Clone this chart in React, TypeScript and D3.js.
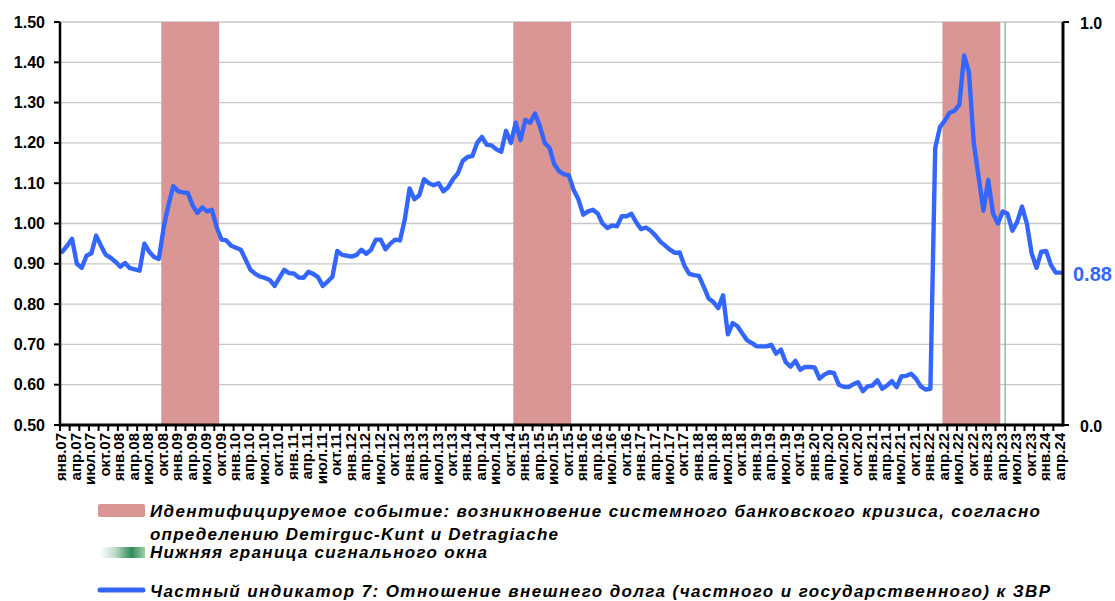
import React from 'react';
import * as d3 from 'd3';

// ---------- DATA ----------
const START_YEAR = 2007;
const QUARTER_NAMES = ['янв.', 'апр.', 'июл.', 'окт.'];

const v2007 = [0.93, 0.945, 0.962, 0.90, 0.89, 0.92, 0.926, 0.97, 0.945, 0.922, 0.915, 0.905];
const v2008 = [0.893, 0.902, 0.889, 0.886, 0.883, 0.95, 0.93, 0.917, 0.912, 0.99, 1.046, 1.093];
const v2009 = [1.08, 1.077, 1.076, 1.045, 1.026, 1.04, 1.03, 1.034, 0.99, 0.96, 0.958, 0.945];
const v2010 = [0.94, 0.935, 0.91, 0.885, 0.875, 0.868, 0.865, 0.86, 0.845, 0.865, 0.885, 0.877];
const v2011 = [0.876, 0.866, 0.865, 0.88, 0.875, 0.867, 0.845, 0.856, 0.868, 0.932, 0.922, 0.92];
const v2012 = [0.918, 0.922, 0.935, 0.925, 0.935, 0.96, 0.96, 0.936, 0.95, 0.96, 0.958, 1.01];
const v2013 = [1.087, 1.06, 1.07, 1.11, 1.10, 1.095, 1.10, 1.08, 1.09, 1.11, 1.124, 1.155];
const v2014 = [1.165, 1.167, 1.20, 1.215, 1.195, 1.194, 1.184, 1.178, 1.23, 1.20, 1.25, 1.207];
const v2015 = [1.257, 1.25, 1.273, 1.242, 1.20, 1.188, 1.147, 1.13, 1.122, 1.12, 1.084, 1.06];
const v2016 = [1.022, 1.03, 1.034, 1.025, 1.0, 0.989, 0.995, 0.993, 1.018, 1.018, 1.024, 1.003];
const v2017 = [0.986, 0.99, 0.982, 0.97, 0.955, 0.945, 0.935, 0.927, 0.928, 0.895, 0.875, 0.872];
const v2018 = [0.87, 0.843, 0.814, 0.805, 0.79, 0.822, 0.725, 0.753, 0.745, 0.727, 0.71, 0.703];
const v2019 = [0.695, 0.695, 0.695, 0.699, 0.677, 0.687, 0.656, 0.645, 0.659, 0.637, 0.644, 0.644];
const v2020 = [0.643, 0.615, 0.625, 0.631, 0.629, 0.60, 0.595, 0.594, 0.601, 0.606, 0.584, 0.596];
const v2021 = [0.598, 0.611, 0.59, 0.598, 0.609, 0.594, 0.621, 0.622, 0.627, 0.615, 0.596, 0.588];
const v2022 = [0.59, 1.187, 1.24, 1.255, 1.275, 1.28, 1.295, 1.417, 1.375, 1.20, 1.115, 1.032];
const v2023 = [1.108, 1.024, 1.0, 1.03, 1.024, 0.982, 1.004, 1.042, 1.0, 0.926, 0.89, 0.93];
const v2024 = [0.932, 0.897, 0.878, 0.878];

const values: number[] = [
  ...v2007, ...v2008, ...v2009, ...v2010, ...v2011, ...v2012, ...v2013, ...v2014, ...v2015,
  ...v2016, ...v2017, ...v2018, ...v2019, ...v2020, ...v2021, ...v2022, ...v2023, ...v2024,
];

// crisis periods (first month, last month)
const crisisPeriods: [string, string][] = [
  ['2008-10', '2009-09'],
  ['2014-11', '2015-10'],
  ['2022-04', '2023-03'],
];
const signalWindowLower = '2023-05';

const leftTicks = [0.5, 0.6, 0.7, 0.8, 0.9, 1.0, 1.1, 1.2, 1.3, 1.4, 1.5];
const rightTicks = [0, 1];

const legendCrisis1 = 'Идентифицируемое событие: возникновение системного банковского кризиса, согласно';
const legendCrisis2 = 'определению Demirguc-Kunt и Detragiache';
const legendSignal = 'Нижняя граница сигнального окна';
const legendLine = 'Частный индикатор 7: Отношение внешнего долга (частного и государственного) к ЗВР';

// ---------- HELPERS ----------
const monthIndex = (s: string) => {
  const [yy, mm] = s.split('-').map(Number);
  return (yy - START_YEAR) * 12 + (mm - 1);
};

const FONT = "'Liberation Sans', Arial, Helvetica, sans-serif";
const PINK = '#D99694';
const BLUE = '#3366FF';

export default function App() {
  const W = 1115, H = 601;
  const left = 60, right = 1063, top = 22, bottom = 425;
  const N = values.length;

  const x = d3.scaleBand<number>().domain(d3.range(N)).range([left, right]).paddingInner(0).paddingOuter(0);
  const bw = x.bandwidth();
  const edge = (i: number) => left + i * bw;
  const cx = (i: number) => (x(i) as number) + bw / 2;
  const y = d3.scaleLinear().domain([0.5, 1.5]).range([bottom, top]);
  const yR = d3.scaleLinear().domain([0, 1]).range([bottom, top]);

  const linePath = d3.line<number>().x((_, i) => cx(i)).y((d) => y(d))(values) || '';

  const xTickIdx = d3.range(0, N, 2);
  const labelIdx = d3.range(0, N, 3);
  const labelText = (i: number) => {
    const yr = START_YEAR + Math.floor(i / 12);
    const q = Math.floor((i % 12) / 3);
    return QUARTER_NAMES[q] + String(yr).slice(2);
  };

  const fmtL = d3.format('.2f');
  const fmtR = d3.format('.1f');
  const last = values[N - 1];
  const sigX = edge(monthIndex(signalWindowLower));

  return (
    <svg width={W} height={H} style={{ position: 'fixed', left: 0, top: 0, background: '#fff' }} fontFamily={FONT}>
      <defs>
        <linearGradient id="greenSw" x1="0" x2="1" y1="0" y2="0">
          <stop offset="0" stopColor="#ffffff" />
          <stop offset="0.35" stopColor="#b9d9c4" />
          <stop offset="0.7" stopColor="#2e8b57" />
          <stop offset="1" stopColor="#9ccfae" />
        </linearGradient>
      </defs>
      <rect x={0} y={0} width={W} height={H} fill="#fff" />

      {/* gridlines */}
      {leftTicks.map((t) => (
        <line key={'g' + t} x1={left} x2={right} y1={y(t)} y2={y(t)} stroke="#C8C8C8" strokeWidth={1.3} />
      ))}

      {/* crisis periods */}
      {crisisPeriods.map(([a, b]) => {
        const i0 = monthIndex(a), i1 = monthIndex(b);
        return (
          <rect key={'c' + a} x={x(i0)} y={top} width={edge(i1 + 1) - edge(i0)} height={bottom - top} fill={PINK} />
        );
      })}

      {/* signal window lower bound */}
      <line x1={sigX} x2={sigX} y1={top} y2={bottom} stroke="#6DB08A" strokeWidth={1.2} />

      {/* series line */}
      <path d={linePath} fill="none" stroke={BLUE} strokeWidth={4.4} strokeLinejoin="round" strokeLinecap="round" />

      {/* left axis */}
      <line x1={left} x2={left} y1={top} y2={bottom + 1.5} stroke="#000" strokeWidth={2.5} />
      {leftTicks.map((t) => (
        <g key={'lt' + t}>
          <line x1={left - 6} x2={left} y1={y(t)} y2={y(t)} stroke="#000" strokeWidth={2} />
          <text x={45} y={y(t)} textAnchor="end" dominantBaseline="central" fontSize={16} fontWeight="bold" fill="#000">
            {fmtL(t)}
          </text>
        </g>
      ))}

      {/* right axis */}
      <line x1={right} x2={right} y1={top} y2={bottom + 1.5} stroke="#000" strokeWidth={3} />
      {rightTicks.map((t) => (
        <g key={'rt' + t}>
          <line x1={right} x2={right + 6} y1={yR(t)} y2={yR(t)} stroke="#000" strokeWidth={2} />
          <text x={1080} y={yR(t) + 1} textAnchor="start" dominantBaseline="central" fontSize={16} fontWeight="bold" fill="#000">
            {fmtR(t)}
          </text>
        </g>
      ))}
      <text x={1073} y={y(last) + 1} textAnchor="start" dominantBaseline="central" fontSize={20} fontWeight="bold" fill={BLUE}>
        {fmtL(last)}
      </text>

      {/* bottom axis */}
      <line x1={left} x2={right} y1={bottom} y2={bottom} stroke="#000" strokeWidth={3} />
      {xTickIdx.map((i) => (
        <line key={'xt' + i} x1={edge(i)} x2={edge(i)} y1={bottom} y2={bottom + 6} stroke="#000" strokeWidth={2} />
      ))}
      {labelIdx.map((i) => (
        <text
          key={'xl' + i}
          transform={`translate(${cx(i) - 1.5},433) rotate(-90)`}
          textAnchor="end"
          dominantBaseline="central"
          fontSize={15}
          fontWeight="bold"
          fill="#000"
        >
          {labelText(i)}
        </text>
      ))}

      {/* legend */}
      <g fontStyle="italic" fontWeight="bold" fontSize={17} fill="#000">
        <rect x={98} y={504} width={47} height={13} rx={2} fill={PINK} />
        <text x={150} y={517} textLength={890} lengthAdjust="spacing">{legendCrisis1}</text>
        <text x={150} y={540} textLength={408} lengthAdjust="spacing">{legendCrisis2}</text>
        <rect x={100} y={547} width={45} height={11} fill="url(#greenSw)" />
        <text x={150} y={558} textLength={337} lengthAdjust="spacing">{legendSignal}</text>
        <line x1={100} x2={143} y1={590} y2={590} stroke={BLUE} strokeWidth={5} strokeLinecap="round" />
        <text x={150} y={597} textLength={900} lengthAdjust="spacing">{legendLine}</text>
      </g>
    </svg>
  );
}
